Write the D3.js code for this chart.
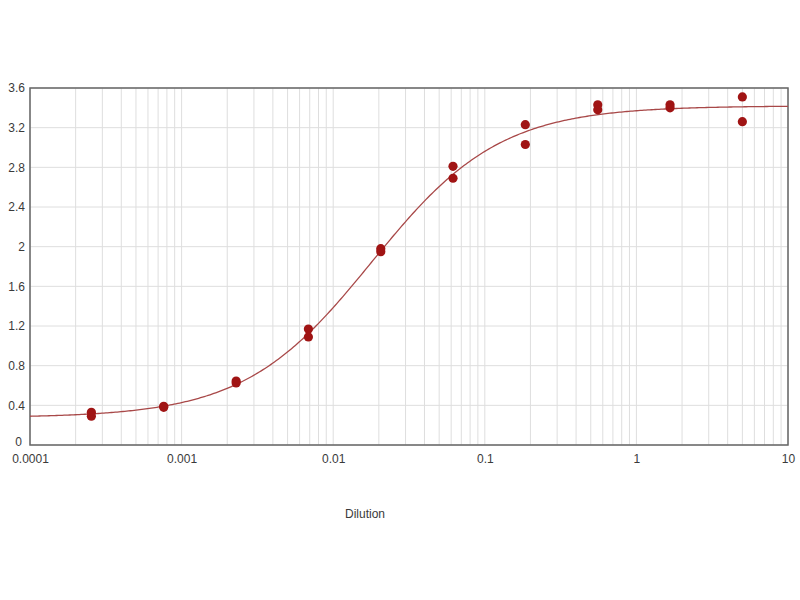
<!DOCTYPE html>
<html><head><meta charset="utf-8">
<script src="https://cdn.jsdelivr.net/npm/d3@7"></script>
<style>body{margin:0;background:#fff}svg{display:block}text{font-family:"Liberation Sans",Arial,sans-serif}</style>
</head><body><svg id="c" width="800" height="600"></svg>
<script>
const dilutions = [0.000254, 0.000762, 0.00229, 0.00686, 0.0206, 0.0617, 0.185, 0.556, 1.667, 5];
const rep1 = [0.33, 0.39, 0.645, 1.17, 1.98, 2.81, 3.23, 3.43, 3.43, 3.51];
const rep2 = [0.29, 0.38, 0.625, 1.09, 1.95, 2.69, 3.03, 3.38, 3.40, 3.26];
const yTicks = [0, 0.4, 0.8, 1.2, 1.6, 2, 2.4, 2.8, 3.2, 3.6];
const xTicks = [0.0001, 0.001, 0.01, 0.1, 1, 10];
const xTickLabels = ["0.0001", "0.001", "0.01", "0.1", "1", "10"];
// 4PL fit parameters (bottom, top, EC50, hill)
const fitBottom = 0.275, fitTop = 3.42, fitEC50 = 0.018, fitHill = 1.03;

const svg = d3.select("#c");
const L = 30, R = 788, T = 88, B = 445;
const x = d3.scaleLog().domain([0.0001, 10]).range([L, R]);
const y = d3.scaleLinear().domain([0, 3.6]).range([B, T]);

// minor vertical grid
const minor = [];
for (let e = -4; e < 1; e++) for (let m = 1; m <= 9; m++) minor.push(m * Math.pow(10, e));
minor.push(10);
svg.append("g").selectAll("line").data(minor).join("line")
  .attr("x1", d => x(d)).attr("x2", d => x(d)).attr("y1", T).attr("y2", B)
  .attr("stroke", "#dedede").attr("stroke-width", 1);
svg.append("g").selectAll("line").data(yTicks).join("line")
  .attr("x1", L).attr("x2", R).attr("y1", d => y(d)).attr("y2", d => y(d))
  .attr("stroke", "#dedede").attr("stroke-width", 1);

// frame
svg.append("rect").attr("x", L).attr("y", T).attr("width", R - L).attr("height", B - T)
  .attr("fill", "none").attr("stroke", "#666").attr("stroke-width", 1.5);

// axes labels
const yAxis = d3.axisLeft(y).tickValues(yTicks).tickFormat(d3.format("~g")).tickSize(0).tickPadding(5);
const gy = svg.append("g").attr("transform", `translate(${L},0)`).call(yAxis);
gy.select(".domain").remove();
gy.selectAll("text").attr("font-size", 12).attr("fill", "#3a3a3a");
gy.selectAll(".tick").filter(d => d === 0).select("text").attr("dy", "0.05em").attr("x", -8);

const xAxis = d3.axisBottom(x).tickValues(xTicks).tickFormat((d, i) => xTickLabels[i]).tickSize(0).tickPadding(9);
const gx = svg.append("g").attr("transform", `translate(0,${B})`).call(xAxis);
gx.select(".domain").remove();
gx.selectAll("text").attr("font-size", 12).attr("fill", "#3a3a3a");

svg.append("text").attr("x", 365).attr("y", 518).attr("text-anchor", "middle")
  .attr("font-size", 12).attr("fill", "#3a3a3a").text("Dilution");

// fitted curve
const f = v => fitTop + (fitBottom - fitTop) / (1 + Math.pow(v / fitEC50, fitHill));
const xs = d3.range(0, 401).map(i => Math.pow(10, -4 + 5 * i / 400));
svg.append("path").datum(xs)
  .attr("d", d3.line().x(d => x(d)).y(d => y(f(d))))
  .attr("fill", "none").attr("stroke", "#a84848").attr("stroke-width", 1.3);

// points
const pts = dilutions.flatMap((d, i) => [[d, rep1[i]], [d, rep2[i]]]);
svg.append("g").selectAll("circle").data(pts).join("circle")
  .attr("cx", d => x(d[0])).attr("cy", d => y(d[1])).attr("r", 4.6)
  .attr("fill", "#a01414");
</script></body></html>
